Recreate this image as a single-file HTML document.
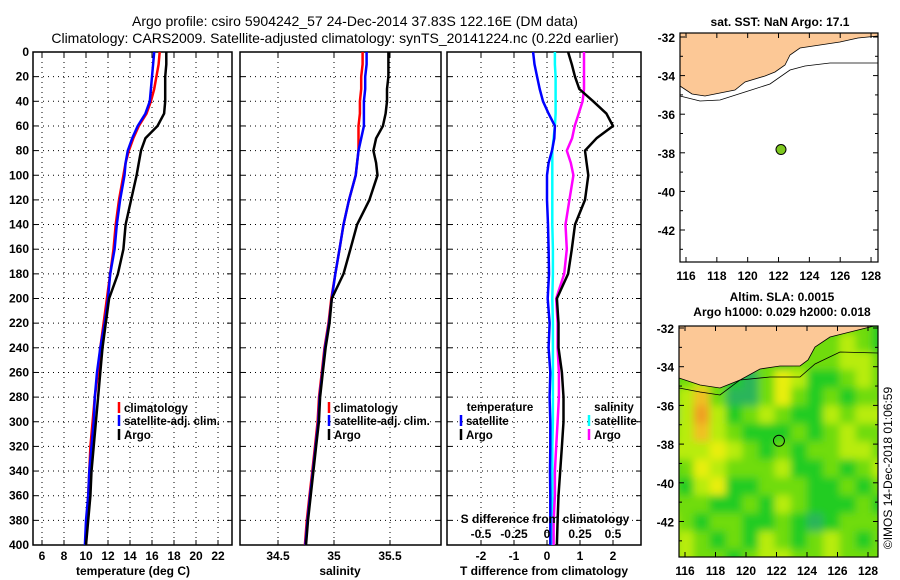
<!DOCTYPE html>
<html><head><meta charset="utf-8">
<style>
html,body{margin:0;padding:0;background:#fff;}
svg{display:block;font-family:"Liberation Sans",Arial,sans-serif;font-weight:bold;}
</style></head>
<body>
<svg id="c" width="900" height="580" viewBox="0 0 900 580">
<text x="355" y="26" text-anchor="middle" font-size="14" font-weight="normal">Argo profile: csiro 5904242_57 24-Dec-2014 37.83S 122.16E (DM data)</text>
<text x="335" y="43" text-anchor="middle" font-size="14" font-weight="normal">Climatology: CARS2009. Satellite-adjusted climatology: synTS_20141224.nc (0.22d earlier)</text>
</svg>
<script>
// ---------- data ----------
const depths=[0,10,20,30,40,50,60,70,80,90,100,120,140,160,180,200,220,240,260,280,300,320,340,360,380,400];
const tempClim=[16.7,16.6,16.4,16.2,15.9,15.5,14.8,14.3,13.9,13.6,13.4,13.0,12.7,12.5,12.2,11.9,11.6,11.3,11.1,10.8,10.6,10.4,10.3,10.2,10.1,10.0];
const tempSat=[16.2,16.1,16.0,15.9,15.8,15.4,14.7,14.2,13.8,13.6,13.5,13.1,12.8,12.6,12.2,12.0,11.7,11.3,11.0,10.8,10.7,10.5,10.3,10.2,10.0,9.9];
const tempArgo=[17.3,17.3,17.2,17.2,17.2,17.1,16.5,15.4,15.0,14.8,14.6,14.1,13.6,13.4,12.9,12.1,11.8,11.5,11.3,11.1,10.9,10.7,10.5,10.4,10.2,10.0];
const salClim=[35.255,35.255,35.243,35.243,35.231,35.231,35.219,35.219,35.219,35.206,35.194,35.134,35.085,35.049,35.012,34.976,34.951,34.915,34.891,34.866,34.854,34.830,34.806,34.781,34.757,34.74];
const salSat=[35.291,35.291,35.279,35.279,35.267,35.267,35.267,35.243,35.219,35.206,35.194,35.134,35.085,35.049,35.012,34.98,34.955,34.92,34.896,34.871,34.86,34.836,34.812,34.787,34.763,34.745];
const salArgo=[35.486,35.486,35.486,35.473,35.473,35.461,35.437,35.376,35.352,35.376,35.388,35.316,35.206,35.146,35.085,34.98,34.96,34.925,34.90,34.876,34.865,34.84,34.816,34.792,34.768,34.75];
const tDiffSat=[-0.42,-0.38,-0.3,-0.22,-0.12,0.05,0.24,0.22,0.15,0.05,0,0,0.03,0.05,0.06,0.02,0.08,0.05,0.1,0.08,0.1,0.1,0.09,0.1,0.1,0.1];
const tDiffArgo=[0.64,0.75,0.85,0.98,1.4,1.8,2.0,1.5,1.15,1.2,1.25,1.15,0.85,0.75,0.64,0.3,0.35,0.35,0.45,0.5,0.5,0.45,0.4,0.35,0.32,0.3];
const sDiffSat=[0.06,0.06,0.065,0.065,0.065,0.065,0.06,0.05,0.04,0.04,0.04,0.04,0.04,0.045,0.045,0.04,0.045,0.045,0.045,0.045,0.045,0.04,0.04,0.04,0.04,0.04];
const sDiffArgo=[0.28,0.28,0.28,0.28,0.27,0.24,0.21,0.19,0.15,0.18,0.2,0.17,0.14,0.15,0.13,0.07,0.08,0.08,0.09,0.09,0.08,0.07,0.06,0.06,0.05,0.05];
const depthTicks=[0,20,40,60,80,100,120,140,160,180,200,220,240,260,280,300,320,340,360,380,400];
const tempTicks=[6,8,10,12,14,16,18,20,22];
const salTicks=[34.5,35,35.5];
const salLabels=["34.5","35","35.5"];
const tDiffTicks=[-2,-1,0,1,2];
const sDiffTicks=[-0.5,-0.25,0,0.25,0.5];
const latTicks=[-32,-34,-36,-38,-40,-42];
const lonTicks=[116,118,120,122,124,126,128];
const argoLon=122.16, argoLat=-37.83;
// SLA grid (rows from north to south)
const slaGrid=[
[2,2,2,2,2,2,2,2,2,2,2,3,3,2],
[2,2,2,2,2,2,2,2,2,3,3,4,3,2],
[2,3,3,4,4,3,3,2,3,3,3,4,4,3],
[2,3,4,3,2,1,3,5,4,2,2,3,4,3],
[2,4,6,3,1,1,3,5,3,2,3,2,3,3],
[1,4,7,4,2,3,4,3,2,2,4,3,4,4],
[3,4,6,4,3,2,2,2,3,2,3,4,3,3],
[4,4,4,5,4,3,2,3,2,3,3,4,4,3],
[2,3,5,4,3,3,3,4,2,2,3,2,3,4],
[3,2,4,5,2,2,3,3,3,2,2,3,2,3],
[3,3,3,2,2,3,2,4,3,2,2,2,3,2],
[4,3,2,3,3,2,2,3,2,1,2,3,3,3],
[3,4,3,2,3,2,4,3,2,3,4,3,2,3],
[3,4,3,3,2,3,4,4,3,3,4,3,3,3]
];
const slaColors=["#1aa070","#2ab55a","#22cc22","#6fdc10","#b8ec10","#e8ee10","#f0c020","#f0a020"];

// ---------- helpers ----------
const NS="http://www.w3.org/2000/svg";
const svg=document.getElementById('c');
function mk(tag,attrs,parent){const e=document.createElementNS(NS,tag);for(const k in attrs)e.setAttribute(k,attrs[k]);(parent||svg).appendChild(e);return e;}
function txt(x,y,s,size,anchor,parent){const t=mk('text',{x:x,y:y,'font-size':size||12,'text-anchor':anchor||'middle'},parent);t.textContent=s;return t;}
const yTop=52,yBot=545;
function yD(d){return yTop+d*(yBot-yTop)/400;}
function xT(t){return 42+(t-6)*11;}
function xS(s){return 334+(s-35)*112;}
function xTd(d){return 547+d*33;}
function xSd(d){return 547+d*132;}

function panel(name,x0,x1,xTicks,xf,labels,showDepth){
  const g=mk('g',{});
  
  
  depthTicks.forEach(d=>{
    if(d>0&&d<400){mk('line',{x1:x0,x2:x1,y1:yD(d),y2:yD(d),stroke:'#000','stroke-width':1,'stroke-dasharray':'1,4'},g);}
    mk('line',{x1:x0,x2:x0+5,y1:yD(d),y2:yD(d),stroke:'#000'},g);
    mk('line',{x1:x1-5,x2:x1,y1:yD(d),y2:yD(d),stroke:'#000'},g);
    if(showDepth){const t=txt(x0-4,yD(d)+4,String(d),12,'end',g);}
  });
  xTicks.forEach((v,i)=>{
    const x=xf(v);
    mk('line',{x1:x,x2:x,y1:yTop,y2:yBot,stroke:'#000','stroke-dasharray':'1,4'},g);
    mk('line',{x1:x,x2:x,y1:yBot-5,y2:yBot,stroke:'#000'},g);
    mk('line',{x1:x,x2:x,y1:yTop,y2:yTop+5,stroke:'#000'},g);
    if(labels){const t=txt(x,yBot+15,labels[i],12,'middle',g);}
  });
  mk('rect',{x:x0,y:yTop,width:x1-x0,height:yBot-yTop,fill:'none',stroke:'#000','stroke-width':1.5},g);
  return g;
}
function profile(vals,xf,color,name,w){
  const pts=vals.map((v,i)=>xf(v).toFixed(1)+','+yD(depths[i]).toFixed(1)).join(' ');
  const p=mk('polyline',{points:pts,fill:'none',stroke:color,'stroke-width':w||2.5,'stroke-linejoin':'round'});
  
  
}
function legend(x,y,color,label,name){
  const g=mk('g',{});
  
  
  mk('line',{x1:x,x2:x,y1:y-10,y2:y+1,stroke:color,'stroke-width':2.5},g);
  txt(x+5,y,label,11.5,'start',g);
}

// Panel 1
panel('temperature-panel',33,232,tempTicks,xT,tempTicks.map(String),true);
profile(tempClim,xT,'#ff0000','temperature-climatology-line');
profile(tempSat,xT,'#0000ff','temperature-satellite-line');
profile(tempArgo,xT,'#000000','temperature-argo-line');
txt(133,575,'temperature (deg C)',12);
legend(119,412,'#ff0000','climatology','legend-climatology');
legend(119,425,'#0000ff','satellite-adj. clim.','legend-satellite-adj');
legend(119,439,'#000000','Argo','legend-argo');

// Panel 2
panel('salinity-panel',240,441,salTicks,xS,salLabels,false);
profile(salClim,xS,'#ff0000','salinity-climatology-line');
profile(salSat,xS,'#0000ff','salinity-satellite-line');
profile(salArgo,xS,'#000000','salinity-argo-line');
txt(340,575,'salinity',12);
legend(329,412,'#ff0000','climatology','legend2-climatology');
legend(329,425,'#0000ff','satellite-adj. clim.','legend2-satellite-adj');
legend(329,439,'#000000','Argo','legend2-argo');

// Panel 3
panel('difference-panel',447,641,tDiffTicks,xTd,tDiffTicks.map(String),false);
sDiffTicks.forEach(v=>{mk('line',{x1:xSd(v),x2:xSd(v),y1:yBot-5,y2:yBot,stroke:'#000'});});
profile(sDiffSat,xSd,'#00ffff','salinity-diff-satellite-line');
profile(sDiffArgo,xSd,'#ff00ff','salinity-diff-argo-line');
profile(tDiffSat,xTd,'#0000ff','temperature-diff-satellite-line');
profile(tDiffArgo,xTd,'#000000','temperature-diff-argo-line');
txt(545,523,'S difference from climatology',12);
["-0.5","-0.25","0","0.25","0.5"].forEach((s,i)=>{const t=txt(xSd(sDiffTicks[i]),538,s,12);});
txt(544,575,'T difference from climatology',12);
txt(500,411,'temperature',11.5);
legend(461,425,'#0000ff','satellite','legend3-temp-satellite');
legend(461,439,'#000000','Argo','legend3-temp-argo');
txt(614,411,'salinity',11.5);
legend(589,425,'#00ffff','satellite','legend3-sal-satellite');
legend(589,439,'#ff00ff','Argo','legend3-sal-argo');

// ---------- maps ----------
function mapAxes(name,x0,y0,x1,y1,lonf,latf){
  const g=mk('g',{});
  
  
  latTicks.forEach(v=>{const y=latf(v);mk('line',{x1:x0,x2:x0+5,y1:y,y2:y,stroke:'#000'},g);mk('line',{x1:x1-5,x2:x1,y1:y,y2:y,stroke:'#000'},g);txt(x0-5,y+5,String(v),12,'end',g);});
  [-33,-35,-37,-39,-41,-43].forEach(v=>{const y=latf(v);if(y<y1){mk('line',{x1:x0,x2:x0+3,y1:y,y2:y,stroke:'#000'},g);mk('line',{x1:x1-3,x2:x1,y1:y,y2:y,stroke:'#000'},g);}});
  lonTicks.forEach(v=>{const x=lonf(v);mk('line',{x1:x,x2:x,y1:y1-5,y2:y1,stroke:'#000'},g);mk('line',{x1:x,x2:x,y1:y0,y2:y0+5,stroke:'#000'},g);txt(x,y1+18,String(v),12,'middle',g);});
  mk('rect',{x:x0,y:y0,width:x1-x0,height:y1-y0,fill:'none',stroke:'#000','stroke-width':1.2},g);
}
// top map
const tLon=v=>686+(v-116)*15.42, tLat=v=>37+(-32-v)*19.3;
txt(780,26,'sat. SST: NaN Argo: 17.1',12);
{const g=mk('g',{});
mk('rect',{x:680,y:33,width:198,height:229,fill:'#fff'},g);
const land=mk('polygon',{points:'680,33 878,33 878,36 858,38 840,42 820,45 800,48 790,55 785,65 775,72 765,76 745,82 735,90 720,93 705,96 692,94 680,86',fill:'#fcc896',stroke:'#000','stroke-width':0.8},g);

mk('polyline',{points:'680,96 700,101 720,100 745,92 770,84 790,70 805,66 830,63 878,63',fill:'none',stroke:'#000','stroke-width':0.8},g);
const dot=mk('circle',{cx:tLon(argoLon),cy:tLat(argoLat),r:5,fill:'#7ec820',stroke:'#000'},g);
}
mapAxes('sst-map-axes',680,33,878,262,tLon,tLat);

// bottom map
const bLon=v=>685+(v-116)*15.25, bLat=v=>328+(-32-v)*19.35;
txt(782,301,'Altim. SLA: 0.0015',12);
txt(782,316,'Argo h1000: 0.029 h2000: 0.018',12);
{const g=mk('g',{});
const defs=mk('defs',{},g);
const cp=mk('clipPath',{id:'clipb'},defs);
mk('rect',{x:679,y:326,width:199,height:231},cp);
const fl=mk('filter',{id:'blur',x:'-10%',y:'-10%',width:'120%',height:'120%'},defs);
mk('feGaussianBlur',{stdDeviation:4},fl);
const hg=mk('g',{'clip-path':'url(#clipb)'},g);
mk('rect',{x:679,y:326,width:199,height:231,fill:'#44cc22'},hg);
const inner=mk('g',{filter:'url(#blur)'},hg);
const rows=slaGrid.length, cols=slaGrid[0].length;
const gx0=661, gy0=316, cw=227/cols, ch=251/rows;
slaGrid.forEach((row,r)=>row.forEach((v,c)=>{
  const cell=mk('rect',{x:(gx0+c*cw).toFixed(1),y:(gy0+r*ch).toFixed(1),width:(cw+1).toFixed(1),height:(ch+1).toFixed(1),fill:slaColors[v]},inner);
  
  
}));
const land=mk('polygon',{points:'679,326 878,326 878,325 870,327 850,332 830,337 815,347 808,360 800,366 780,366 760,369 740,380 720,388 700,385 679,378',fill:'#fcc896',stroke:'#000','stroke-width':0.8},hg);

mk('polyline',{points:'679,388 700,392 720,395 740,380 770,377 800,377 815,364 840,352 878,353',fill:'none',stroke:'#000','stroke-width':0.8},hg);
const circ=mk('circle',{cx:bLon(argoLon),cy:bLat(argoLat),r:5.5,fill:'none',stroke:'#000','stroke-width':1},g);
}
mapAxes('sla-map-axes',679,326,878,557,bLon,bLat);
{const t=txt(0,0,'\u00A9IMOS 14-Dec-2018 01:06:59',12,'middle');t.setAttribute('transform','translate(892,468) rotate(-90)');t.setAttribute('font-weight','normal');}
</script>
</body></html>
